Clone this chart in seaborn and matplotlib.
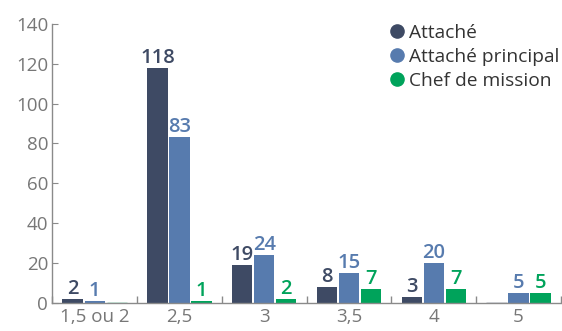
import matplotlib
matplotlib.use("Agg")
import matplotlib.pyplot as plt
import seaborn as sns
import pandas as pd
from matplotlib.ticker import FixedLocator
from matplotlib.lines import Line2D

categories = ["1,5 ou 2", "2,5", "3", "3,5", "4", "5"]
series = ["Attaché", "Attaché principal", "Chef de mission"]
attache = [2, 118, 19, 8, 3, 0]
attache_principal = [1, 83, 24, 15, 20, 5]
chef_de_mission = [0, 1, 2, 7, 7, 5]
colors = ["#3e4a64", "#577bae", "#00a35b"]

rows = []
for name, vals in zip(series, [attache, attache_principal, chef_de_mission]):
    for cat, v in zip(categories, vals):
        rows.append({"Catégorie": cat, "Série": name, "Nombre": v})
df = pd.DataFrame(rows)

sns.set_style("white")
plt.rcParams["font.family"] = ["Open Sans", "DejaVu Sans"]

fig = plt.figure(figsize=(5.62, 3.31), dpi=100)
ax = fig.add_axes([0.093, 0.085, 0.905, 0.843])

sns.barplot(data=df, x="Catégorie", y="Nombre", hue="Série", order=categories,
            hue_order=series, palette=colors, saturation=1, width=0.78,
            gap=0.08, linewidth=0, errorbar=None, ax=ax, legend=False)

# value labels above each bar, zero bars shown as a thin line without label
for cont, col in zip(ax.containers, colors):
    labels = []
    for p, v in zip(cont.patches, cont.datavalues):
        if v == 0:
            p.set_edgecolor(col)
            p.set_linewidth(1.0)
            labels.append("")
        else:
            labels.append(f"{int(v)}")
    ax.bar_label(cont, labels=labels, color=col, fontsize=14.5,
                 fontweight="semibold", padding=0)

ax.set_xlim(-0.5, 5.5)
ax.set_ylim(0, 140)
ax.set_yticks(range(0, 141, 20))
ax.set_xlabel("")
ax.set_ylabel("")

grey = "#8a8a8a"
for s in ["top", "right"]:
    ax.spines[s].set_visible(False)
for s in ["left", "bottom"]:
    ax.spines[s].set_color(grey)
    ax.spines[s].set_linewidth(1.0)

ax.tick_params(axis="y", direction="in", length=4, color=grey,
               labelcolor="#777777", labelsize=13.5, pad=3, left=True)
ax.tick_params(axis="x", which="major", length=0, labelcolor="#777777",
               labelsize=13.5, pad=4)
ax.xaxis.set_minor_locator(FixedLocator([i + 0.5 for i in range(-1, 6)]))
ax.tick_params(axis="x", which="minor", direction="in", length=5,
               color=grey, width=1.0, bottom=True)

handles = [Line2D([0], [0], marker="o", linestyle="", markersize=9.5,
                  markerfacecolor=c, markeredgecolor=c) for c in colors]
ax.legend(handles, series, loc="upper right", bbox_to_anchor=(0.998, 1.0),
          frameon=False, fontsize=13.8, handlelength=0.7, handletextpad=0.3,
          labelspacing=0.32, borderpad=0, borderaxespad=0,
          labelcolor="#333333")

fig.savefig("out.png", dpi=100)
